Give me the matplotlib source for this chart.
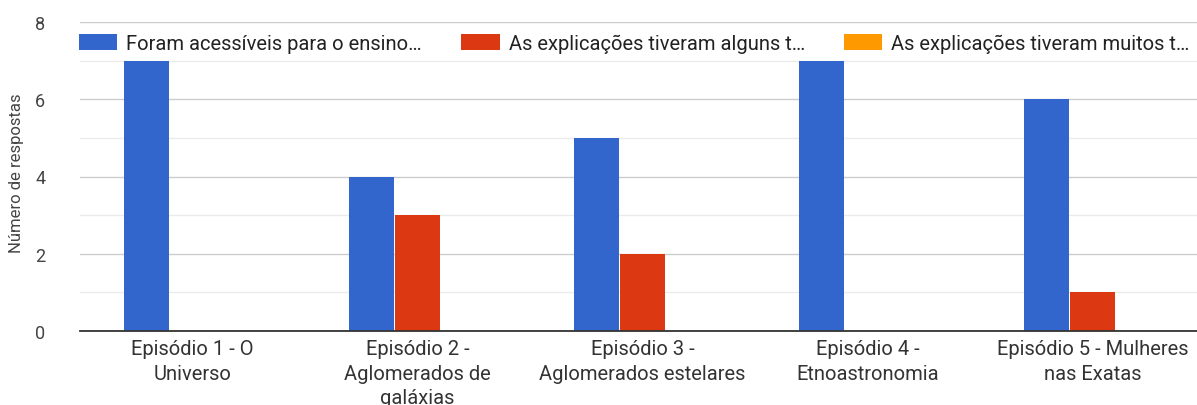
import numpy as np
import matplotlib
matplotlib.use("Agg")
import matplotlib.pyplot as plt

plt.rcParams['font.family'] = ['Roboto', 'DejaVu Sans']

episodios = [
    "Episódio 1 - O\nUniverso",
    "Episódio 2 -\nAglomerados de\ngaláxias",
    "Episódio 3 -\nAglomerados estelares",
    "Episódio 4 -\nEtnoastronomia",
    "Episódio 5 - Mulheres\nnas Exatas",
]
series = [
    "Foram acessíveis para o ensino…",
    "As explicações tiveram alguns t…",
    "As explicações tiveram muitos t…",
]
acessiveis = [7, 4, 5, 7, 6]
alguns = [0, 3, 2, 0, 1]
muitos = [0, 0, 0, 0, 0]
cores = ["#3366cc", "#dc3912", "#ff9900"]

fig = plt.figure(figsize=(11.97, 4.06), dpi=100)
ax = fig.add_axes([80 / 1197, 74 / 406, 1117 / 1197, 309 / 406])

x = np.arange(len(episodios))
largura = 0.2
passo = 0.205
for i, (vals, nome) in enumerate(zip([acessiveis, alguns, muitos], series)):
    ax.bar(x + (i - 1) * passo, vals, width=largura, color=cores[i], label=nome, zorder=3)

ax.set_xlim(-0.5, 4.465)
ax.set_ylim(0, 8)
ax.set_yticks([0, 2, 4, 6, 8])
ax.set_yticks([1, 3, 5, 7], minor=True)
ax.grid(axis='y', which='major', color='#cccccc', linewidth=1, zorder=0)
ax.grid(axis='y', which='minor', color='#ebebeb', linewidth=1, zorder=0)
ax.tick_params(axis='y', which='both', length=0, pad=25, labelsize=13, labelcolor='#444444')
ax.set_xticks(x)
ax.set_xticklabels(episodios, fontsize=14.5, color='#333333', linespacing=1.35)
ax.tick_params(axis='x', length=0, pad=6)
for s in ['top', 'right', 'left']:
    ax.spines[s].set_visible(False)
ax.spines['bottom'].set_color('#333333')
ax.spines['bottom'].set_linewidth(1.3)
ax.spines['bottom'].set_zorder(4)

fig.text(17 / 1197, 1 - 173 / 406, "Número de respostas", rotation=90,
         ha='center', va='center', fontsize=12, color='#444444')

leg = fig.legend(loc='center left', bbox_to_anchor=(76 / 1197, 1 - 44 / 406), ncol=3,
                 frameon=True, fontsize=14.5, handlelength=1.9, handleheight=0.85,
                 handletextpad=0.45, columnspacing=1.95, borderaxespad=0, borderpad=0.15)
leg.get_frame().set_facecolor('white')
leg.get_frame().set_edgecolor('none')
for t in leg.get_texts():
    t.set_color('#222222')

fig.savefig("out.png", dpi=100)
